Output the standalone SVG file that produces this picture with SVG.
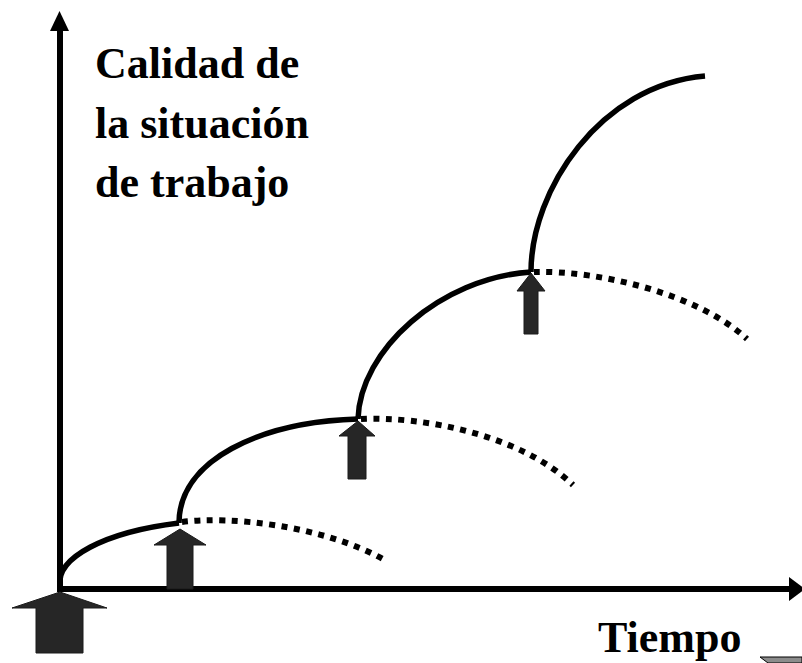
<svg xmlns="http://www.w3.org/2000/svg" width="802" height="663" viewBox="0 0 802 663">
<style>
.lbl{font-family:"Liberation Serif","Times New Roman",serif;font-weight:bold;font-size:44px;fill:#000}
.axis{stroke:#000;stroke-width:6;fill:none}
.solid{stroke:#000;stroke-width:5.5;fill:none}
.dot{stroke:#000;stroke-width:6;fill:none;stroke-dasharray:6 6.5}
.blk{fill:#262626;stroke:#1a1a1a;stroke-width:1}
</style>
<rect width="802" height="663" fill="#fff"/>
<g id="connectors">
<line class="axis" x1="60" y1="28" x2="60" y2="592"/>
<polygon points="59.5,11 50,31 69,31" fill="#000"/>
<line class="axis" x1="57" y1="589" x2="791" y2="589"/>
<polygon points="789,577 805,589 789,601" fill="#000"/>
<path class="solid" d="M60,586 A175,63 0 0 1 179,523"/>
<path class="dot" d="M182,522 C230,516 320,525 383,559"/>
<path class="solid" d="M179,523 C179,460 260,422 358,419"/>
<path class="dot" d="M361,419 C420,416 520,434 573,485"/>
<path class="solid" d="M358,419 C360,350 440,278 531,272"/>
<path class="dot" d="M534,272 C600,270 700,295 747,339"/>
<path class="solid" d="M531,272 C531,190 600,85 705,76"/>
</g>
<g id="arrow0"><polygon class="blk" points="60,592 107,608 83,608 83,653 36,653 36,608 12,608"/></g>
<g id="arrow1"><polygon class="blk" points="180,529 206,545 193,545 193,589 167,589 167,545 154,545"/></g>
<g id="arrow2"><polygon class="blk" points="358,421 375,436 366,436 366,479 348,479 348,436 339,436"/></g>
<g id="arrow3"><polygon class="blk" points="531,273 545,291 538,291 538,334 524,334 524,291 517,291"/></g>
<g id="ylabel">
<text class="lbl" x="95" y="78">Calidad de</text>
<text class="lbl" x="95" y="138">la situación</text>
<text class="lbl" x="95" y="197">de trabajo</text>
</g>
<g id="xlabel"><text class="lbl" x="598" y="652">Tiempo</text></g>
<g id="corner"><polygon points="760,657 802,657 802,663 768,663" fill="#8c8c8c" stroke="#000" stroke-width="1"/></g>
</svg>
